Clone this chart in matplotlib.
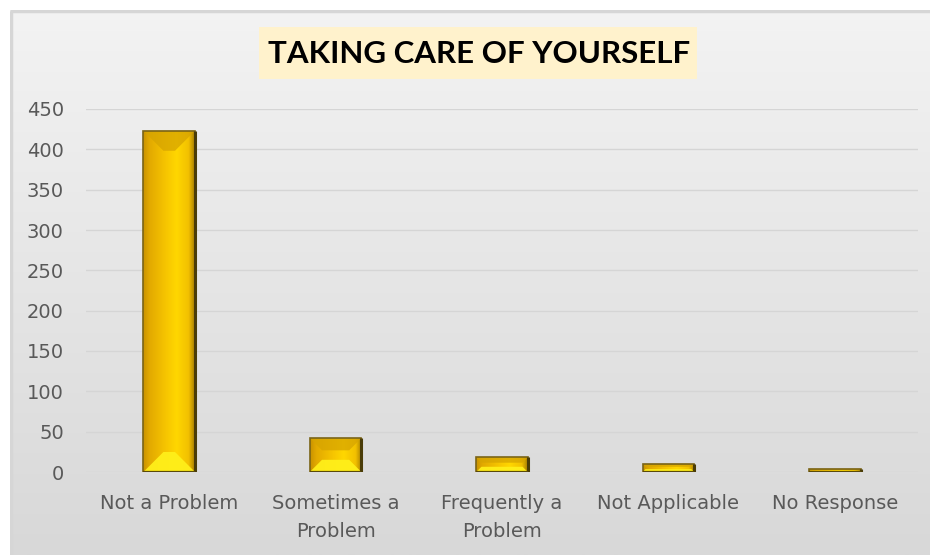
import numpy as np
import matplotlib
matplotlib.use("Agg")
import matplotlib.pyplot as plt
from matplotlib import font_manager
from matplotlib.patches import Rectangle, Polygon
from matplotlib.colors import LinearSegmentedColormap

categories = ["Not a Problem", "Sometimes a\nProblem", "Frequently a\nProblem",
              "Not Applicable", "No Response"]
counts = [423, 42, 18, 10, 4]
y_ticks = [0, 50, 100, 150, 200, 250, 300, 350, 400, 450]
title = "TAKING CARE OF YOURSELF"


def pick_family(names):
    for name in names:
        try:
            font_manager.findfont(font_manager.FontProperties(family=name),
                                  fallback_to_default=False)
            return name
        except Exception:
            continue
    return "DejaVu Sans"


title_family = pick_family(["Lato", "Liberation Sans Narrow", "DejaVu Sans"])

W, H, DPI = 930, 555, 100
fig = plt.figure(figsize=(W / DPI, H / DPI), dpi=DPI, facecolor="white")

# chart area panel with a soft vertical gradient
panel = fig.add_axes([10 / W, 0, 1 - 10 / W, 1 - 10 / H], zorder=0)
grad = np.linspace(0, 1, 256).reshape(-1, 1)
panel_cmap = LinearSegmentedColormap.from_list("panel", ["#f3f3f3", "#d8d8d8"])
panel.imshow(grad, aspect="auto", cmap=panel_cmap, extent=[0, 1, 0, 1], origin="upper")
panel.set_xlim(0, 1)
panel.set_ylim(0, 1)
panel.axis("off")
panel.plot([0.001, 0.001], [0, 0.999], color="#d6d6d6", lw=2.5, solid_capstyle="butt")
panel.plot([0, 1], [0.998, 0.998], color="#d6d6d6", lw=2.5, solid_capstyle="butt")

# title with its pale yellow box
fig.patches.append(Rectangle((259 / W, 1 - 79 / H), (697 - 259) / W, 52 / H,
                             transform=fig.transFigure, facecolor="#fff2cc",
                             edgecolor="none", zorder=1))
fig.text(479 / W, 1 - 54 / H, title, ha="center", va="center", fontsize=22.5,
         fontweight="bold", family=title_family, color="black", zorder=2)

ax = fig.add_axes([86 / W, 1 - 472 / H, (918 - 86) / W, (472 - 109) / H], zorder=1)
ax.patch.set_alpha(0)
x = np.arange(len(categories))
bar_w = 0.31
ax.set_xlim(-0.5, len(categories) - 0.5)
ax.set_ylim(0, 450)
ax.set_yticks(y_ticks)
ax.set_xticks(x)
ax.set_xticklabels(categories, linespacing=1.6)
ax.tick_params(axis="both", length=0, labelsize=14, labelcolor="#595959")
ax.tick_params(axis="x", pad=16)
ax.tick_params(axis="y", pad=16)
for s in ax.spines.values():
    s.set_visible(False)
ax.yaxis.grid(True, color="#d5d5d5", lw=1)
ax.set_axisbelow(True)

bars = ax.bar(x, counts, width=bar_w, color="#f5c400", edgecolor="none", zorder=2)

# pixel size of one data unit, for the bevel geometry
p0 = ax.transData.transform((0, 0))
px_x = ax.transData.transform((1, 0))[0] - p0[0]
px_y = ax.transData.transform((0, 1))[1] - p0[1]

face_cmap = LinearSegmentedColormap.from_list(
    "face", [(0.0, "#c99200"), (0.12, "#e2a900"), (0.45, "#f7c600"),
             (0.65, "#ffd700"), (0.88, "#f2c000"), (1.0, "#a87e00")])
row = np.linspace(0, 1, 256).reshape(1, -1)

for rect in bars:
    x0 = rect.get_x()
    w = rect.get_width()
    h = rect.get_height()
    x1 = x0 + w
    h_px = h * px_y
    w_px = w * px_x
    b_px = min(20.0, 0.36 * h_px, 0.45 * w_px)
    bx = b_px / px_x
    by = b_px / px_y

    img = ax.imshow(row, aspect="auto", cmap=face_cmap, extent=[x0, x1, 0, h],
                    zorder=2.1, interpolation="bilinear")
    img.set_clip_path(rect)

    # upper bevel (shaded) and lower bevel (lit)
    ax.add_patch(Polygon([(x0, h), (x1, h), (x1 - bx, h - by), (x0 + bx, h - by)],
                         closed=True, facecolor="#d6a400", alpha=0.75,
                         edgecolor="none", zorder=2.2))
    ax.add_patch(Polygon([(x0, 0), (x1, 0), (x1 - bx, by), (x0 + bx, by)],
                         closed=True, facecolor="#ffef1a", alpha=0.95,
                         edgecolor="none", zorder=2.2))

    # outer rim: lighter on top/left, darker on right/bottom
    ax.add_patch(Rectangle((x0, 0), w, h, facecolor="none", edgecolor="#7a6418",
                           lw=1.2, zorder=2.3))
    ax.plot([x1, x1], [0, h], color="#4a3c08", lw=2.2, zorder=2.35,
            solid_capstyle="butt")
    ax.plot([x0, x1], [0, 0], color="#5a4a0a", lw=1.6, zorder=2.35,
            solid_capstyle="butt")

ax.set_xlim(-0.5, len(categories) - 0.5)
ax.set_ylim(0, 450)

fig.savefig("out.png", dpi=DPI, facecolor="white")
